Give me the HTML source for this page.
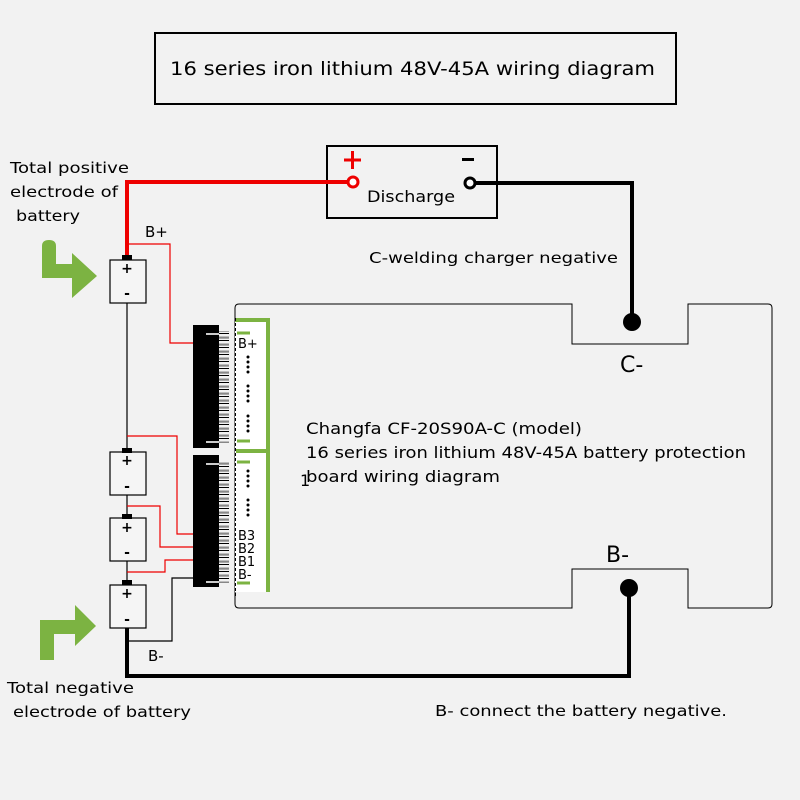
<!DOCTYPE html>
<html><head><meta charset="utf-8"><style>
html,body{margin:0;padding:0;background:#f2f2f2;}
svg{display:block;}
text{font-family:"DejaVu Sans","Liberation Sans",sans-serif;fill:#000;}
</style></head><body>
<svg width="800" height="800" viewBox="0 0 800 800" xmlns="http://www.w3.org/2000/svg">
<defs>
<pattern id="pins" x="0" y="0" width="10" height="7" patternUnits="userSpaceOnUse">
<rect x="0" y="0.5" width="10" height="2.2" fill="#888"/>
<rect x="0" y="4" width="10" height="1" fill="#000"/>
</pattern>
</defs>
<rect width="800" height="800" fill="#f2f2f2"/>
<!-- title -->
<rect x="155" y="33" width="521" height="71" fill="none" stroke="#000" stroke-width="2"/>
<text x="170" y="75" font-size="19" textLength="485" lengthAdjust="spacingAndGlyphs">16 series iron lithium 48V-45A wiring diagram</text>
<!-- discharge -->
<rect x="327" y="146" width="170" height="72" fill="none" stroke="#000" stroke-width="2"/>
<path d="M344 160h17M352.5 151v18" stroke="#e00" stroke-width="3"/>
<rect x="462" y="158" width="12" height="3" fill="#000"/>
<text x="367" y="202" font-size="16" textLength="88" lengthAdjust="spacingAndGlyphs">Discharge</text>
<!-- red main -->
<path d="M348 182H127V258" fill="none" stroke="#e00" stroke-width="4"/>
<circle cx="353" cy="182" r="5" fill="#fff" stroke="#e00" stroke-width="3"/>
<path d="M476 183H632V322" fill="none" stroke="#000" stroke-width="4"/>
<circle cx="470" cy="183" r="5" fill="#fff" stroke="#000" stroke-width="3"/>
<circle cx="632" cy="322" r="9" fill="#000"/>
<text x="369" y="263" font-size="15" textLength="249" lengthAdjust="spacingAndGlyphs">C-welding charger negative</text>
<!-- board outline -->
<path d="M239 304H572V344H688V304H768Q772 304 772 308V604Q772 608 768 608H688V569H572V608H239Q235 608 235 604V308Q235 304 239 304Z" fill="none" stroke="#000" stroke-width="1"/>
<text x="620" y="372" font-size="22">C-</text>
<text x="606" y="562" font-size="22">B-</text>
<path d="M127 628V676H629V588" fill="none" stroke="#000" stroke-width="4"/>
<circle cx="629" cy="588" r="9" fill="#000"/>
<text x="306" y="434" font-size="16" textLength="276" lengthAdjust="spacingAndGlyphs">Changfa CF-20S90A-C (model)</text>
<text x="306" y="458" font-size="16" textLength="440" lengthAdjust="spacingAndGlyphs">16 series iron lithium 48V-45A battery protection</text>
<text x="300" y="486" font-size="16">1</text>
<text x="306" y="482" font-size="16" textLength="194" lengthAdjust="spacingAndGlyphs">board wiring diagram</text>
<text x="435" y="716" font-size="15" textLength="292" lengthAdjust="spacingAndGlyphs">B- connect the battery negative.</text>
<!-- left text -->
<text x="10" y="173" font-size="15" textLength="119" lengthAdjust="spacingAndGlyphs">Total positive</text>
<text x="10" y="197" font-size="15" textLength="108" lengthAdjust="spacingAndGlyphs">electrode of</text>
<text x="16" y="221" font-size="15" textLength="64" lengthAdjust="spacingAndGlyphs">battery</text>
<text x="7" y="693" font-size="15" textLength="127" lengthAdjust="spacingAndGlyphs">Total negative</text>
<text x="13" y="717" font-size="15" textLength="178" lengthAdjust="spacingAndGlyphs">electrode of battery</text>
<text x="145" y="237" font-size="15">B+</text>
<text x="148" y="661" font-size="15">B-</text>
<!-- green arrows -->
<path d="M42 246Q42 240 49 240Q56 240 56 246V264H72V253L97 276L72 298V278H42Z" fill="#7cb342"/>
<path d="M40 660V620H75V605L96 626L75 646V634H54V660Z" fill="#7cb342"/>
<!-- battery chain wires -->
<path d="M127 303V452M127 495V518M127 561V585" stroke="#000" stroke-width="1.2" fill="none"/>
<!-- red sense wires -->
<g fill="none" stroke="#e00" stroke-width="1.2">
<path d="M127 244H170V343H193"/>
<path d="M127 436H177V534H193"/>
<path d="M127 506H160V547H193"/>
<path d="M127 572H165V560H193"/>
</g>
<path d="M127 641H172V578H193" fill="none" stroke="#000" stroke-width="1.2"/>
<!-- batteries -->
<g fill="#f5f5f5" stroke="#000" stroke-width="1.2">
<rect x="110" y="260" width="36" height="43"/>
<rect x="110" y="452" width="36" height="43"/>
<rect x="110" y="518" width="36" height="43"/>
<rect x="110" y="585" width="36" height="43"/>
</g>
<g fill="#000">
<rect x="122" y="255" width="10" height="5"/>
<rect x="122" y="448" width="10" height="5"/>
<rect x="122" y="514" width="10" height="5"/>
<rect x="122" y="580" width="10" height="5"/>
</g>
<g font-size="14" text-anchor="middle" font-weight="bold">
<text x="127" y="273">+</text><text x="127" y="298">-</text>
<text x="127" y="465">+</text><text x="127" y="491">-</text>
<text x="127" y="532">+</text><text x="127" y="557">-</text>
<text x="127" y="598">+</text><text x="127" y="624">-</text>
</g>
<!-- connectors -->
<rect x="193" y="325" width="26" height="123" fill="#000"/>
<rect x="193" y="455" width="26" height="132" fill="#000"/>
<rect x="219" y="331" width="10" height="112" fill="url(#pins)"/>
<rect x="219" y="461" width="10" height="122" fill="url(#pins)"/>
<g stroke="#ccc" stroke-width="2">
<path d="M206 334H219M206 442H219M206 464H219M206 582H219"/>
</g>
<!-- board strip -->
<rect x="235" y="318" width="35" height="274" fill="#fff"/>
<path d="M235 320H268V592" fill="none" stroke="#7cb342" stroke-width="4"/>
<rect x="236" y="449" width="33" height="4" fill="#7cb342"/>
<path d="M235.5 318V596" stroke="#000" stroke-width="1" stroke-dasharray="3,2"/>
<g stroke="#7cb342" stroke-width="3">
<path d="M237 333H250M237 441H250M237 462H250M237 583H250"/>
</g>
<g fill="#000">
<circle cx="248" cy="357" r="1.5"/><circle cx="248" cy="362" r="1.5"/><circle cx="248" cy="367" r="1.5"/><circle cx="248" cy="372" r="1.5"/>
<circle cx="248" cy="386" r="1.5"/><circle cx="248" cy="391" r="1.5"/><circle cx="248" cy="396" r="1.5"/><circle cx="248" cy="401" r="1.5"/>
<circle cx="248" cy="416" r="1.5"/><circle cx="248" cy="421" r="1.5"/><circle cx="248" cy="426" r="1.5"/><circle cx="248" cy="431" r="1.5"/>
<circle cx="248" cy="471" r="1.5"/><circle cx="248" cy="476" r="1.5"/><circle cx="248" cy="481" r="1.5"/><circle cx="248" cy="486" r="1.5"/>
<circle cx="248" cy="500" r="1.5"/><circle cx="248" cy="505" r="1.5"/><circle cx="248" cy="510" r="1.5"/><circle cx="248" cy="515" r="1.5"/>
</g>
<g font-size="13">
<text x="238" y="348">B+</text>
<text x="238" y="540">B3</text>
<text x="238" y="553">B2</text>
<text x="238" y="566">B1</text>
<text x="238" y="579">B-</text>
</g>
</svg>
</body></html>
